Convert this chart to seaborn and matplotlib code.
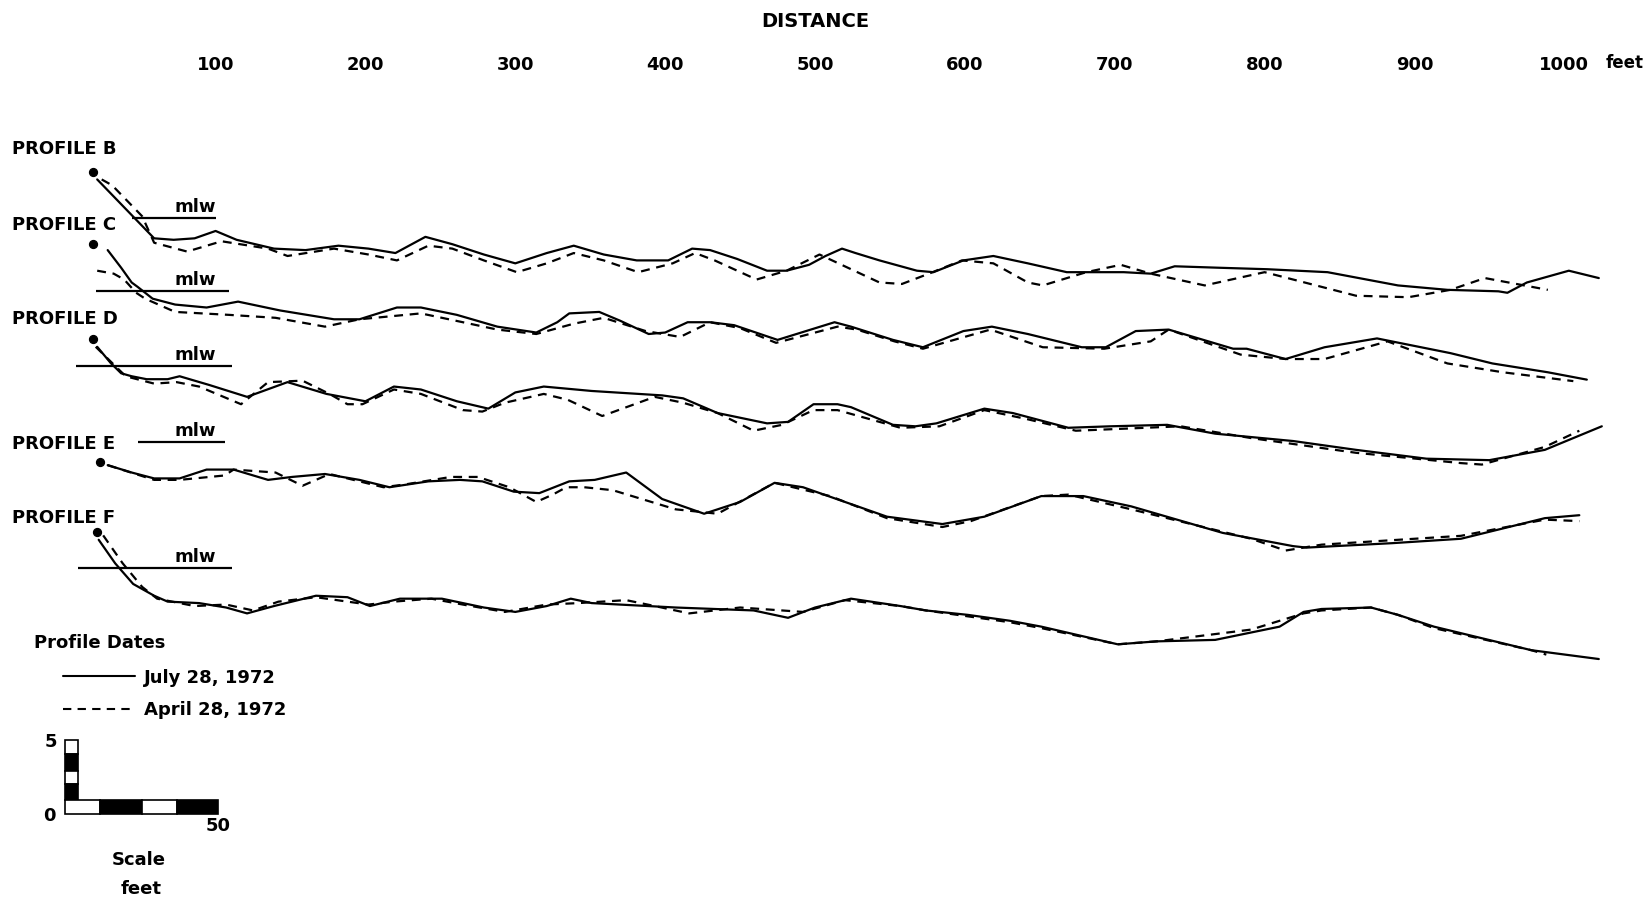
import matplotlib
matplotlib.use("Agg")
import matplotlib.pyplot as plt
from matplotlib.lines import Line2D
from matplotlib.patches import Rectangle
import pandas as pd
import seaborn as sns

# ---------------- data: distance (ft) and elevation relative to mlw (ft) ----------------
dates = ["July 28, 1972", "April 28, 1972"]
profiles = ["B", "C", "D", "E", "F"]

b_jul_dist = [21,40,59,72,86,100,114,139,160,182,202,220,240,258,279,300,321,339,359,381,402,418,430,448,468,481,496,507,518,527,543,568,579,599,619,642,668,706,724,740,770,802,842,889,922,956,962,975,1003,1023]
b_jul_elev = [2.6,0.6,-1.4,-1.5,-1.4,-0.9,-1.5,-2.1,-2.2,-1.9,-2.1,-2.4,-1.3,-1.8,-2.5,-3.1,-2.4,-1.9,-2.5,-2.9,-2.9,-2.1,-2.2,-2.8,-3.6,-3.6,-3.2,-2.6,-2.1,-2.4,-2.9,-3.6,-3.7,-2.9,-2.6,-3.1,-3.7,-3.7,-3.8,-3.3,-3.4,-3.5,-3.7,-4.6,-4.9,-5.0,-5.1,-4.4,-3.6,-4.1]
b_apr_dist = [24,31,51,59,81,104,135,148,179,202,221,242,258,279,301,321,339,359,382,405,420,433,461,481,503,543,558,576,598,619,642,652,681,704,724,760,800,861,896,924,947,989]
b_apr_elev = [2.6,2.2,0.1,-1.7,-2.3,-1.6,-2.1,-2.6,-2.1,-2.5,-2.9,-1.9,-2.1,-2.9,-3.7,-3.1,-2.4,-2.9,-3.7,-3.1,-2.4,-2.9,-4.2,-3.6,-2.5,-4.4,-4.5,-3.8,-2.9,-3.1,-4.4,-4.6,-3.7,-3.2,-3.8,-4.6,-3.7,-5.3,-5.4,-4.9,-4.1,-4.9]

c_jul_dist = [28,37,44,48,58,73,94,115,143,179,196,221,237,261,288,314,328,336,356,370,389,400,415,430,446,475,513,524,552,572,599,618,642,678,694,714,736,779,788,814,840,875,924,952,989,1015]
c_jul_elev = [2.8,1.6,0.6,0.3,-0.5,-0.9,-1.1,-0.7,-1.3,-1.9,-1.9,-1.1,-1.1,-1.6,-2.4,-2.8,-2.1,-1.5,-1.4,-2.0,-2.9,-2.8,-2.1,-2.1,-2.3,-3.3,-2.1,-2.4,-3.3,-3.8,-2.7,-2.4,-2.9,-3.8,-3.8,-2.7,-2.6,-3.9,-3.9,-4.6,-3.8,-3.2,-4.2,-4.9,-5.5,-6.0]
c_apr_dist = [21,32,39,47,53,73,109,140,173,196,237,265,288,314,339,359,387,410,430,450,474,515,528,553,572,617,652,693,724,736,784,814,840,882,922,959,1006]
c_apr_elev = [1.4,1.2,0.8,-0.1,-0.5,-1.4,-1.6,-1.8,-2.4,-1.9,-1.5,-2.1,-2.6,-2.9,-2.2,-1.8,-2.7,-3.1,-2.1,-2.5,-3.5,-2.4,-2.6,-3.4,-3.9,-2.6,-3.8,-3.9,-3.4,-2.6,-4.3,-4.6,-4.6,-3.4,-4.9,-5.5,-6.1]

d_jul_dist = [21,30,37,44,54,68,76,96,121,148,174,200,219,237,261,282,300,319,351,398,412,435,468,482,499,515,524,552,567,581,613,632,669,697,735,767,819,861,908,950,987,1025]
d_jul_elev = [1.3,0.2,-0.5,-0.7,-0.9,-0.9,-0.7,-1.3,-2.1,-1.1,-1.9,-2.4,-1.4,-1.6,-2.4,-2.9,-1.8,-1.4,-1.7,-2.0,-2.2,-3.2,-3.9,-3.8,-2.6,-2.6,-2.8,-4.0,-4.1,-3.9,-2.9,-3.2,-4.2,-4.1,-4.0,-4.6,-5.1,-5.7,-6.3,-6.4,-5.7,-4.1]
d_apr_dist = [20,33,40,59,74,89,117,135,158,176,188,198,219,237,265,278,293,319,335,358,393,412,435,459,478,499,515,557,583,613,641,674,744,791,861,931,945,987,1010]
d_apr_elev = [1.3,0.0,-0.7,-1.2,-1.1,-1.4,-2.6,-1.1,-1.0,-1.9,-2.6,-2.6,-1.6,-1.9,-3.0,-3.1,-2.5,-1.9,-2.3,-3.4,-2.1,-2.5,-3.2,-4.4,-4.0,-3.0,-3.0,-4.2,-4.1,-3.0,-3.6,-4.4,-4.1,-4.9,-5.9,-6.6,-6.7,-5.5,-4.4]

e_jul_dist = [28,44,59,76,94,112,135,151,173,196,216,242,263,278,299,316,336,353,374,398,426,450,473,492,548,585,613,651,679,711,772,819,828,885,931,987,1010]
e_jul_elev = [-1.6,-2.1,-2.5,-2.5,-1.9,-1.9,-2.6,-2.4,-2.2,-2.6,-3.1,-2.7,-2.6,-2.7,-3.4,-3.5,-2.7,-2.6,-2.1,-3.9,-4.9,-4.1,-2.8,-3.1,-5.1,-5.6,-5.1,-3.7,-3.7,-4.4,-6.2,-7.1,-7.2,-6.9,-6.6,-5.2,-5.0]
e_apr_dist = [28,59,76,106,112,140,158,176,212,227,257,275,296,314,325,334,346,365,407,435,473,510,548,585,604,651,669,711,791,814,838,931,987,1010]
e_apr_elev = [-1.6,-2.6,-2.6,-2.3,-1.9,-2.1,-3.0,-2.2,-3.1,-2.9,-2.4,-2.4,-3.1,-4.1,-3.6,-3.1,-3.1,-3.3,-4.6,-4.9,-2.8,-3.7,-5.2,-5.8,-5.4,-3.7,-3.6,-4.6,-6.6,-7.4,-7.0,-6.4,-5.3,-5.4]

f_jul_dist = [22,33,45,59,68,89,107,121,139,167,188,203,223,251,279,300,321,337,351,407,459,482,500,524,557,574,602,630,651,702,728,767,810,826,838,871,889,913,978,1023]
f_jul_elev = [1.9,0.3,-1.1,-1.9,-2.3,-2.4,-2.7,-3.1,-2.6,-1.9,-2.0,-2.6,-2.1,-2.1,-2.7,-3.0,-2.6,-2.1,-2.4,-2.7,-2.9,-3.4,-2.7,-2.1,-2.6,-2.9,-3.2,-3.6,-4.0,-5.2,-5.0,-4.9,-4.0,-3.0,-2.8,-2.7,-3.2,-4.0,-5.6,-6.2]
f_apr_dist = [25,38,51,61,86,107,125,142,167,188,202,219,244,265,293,321,342,374,393,416,450,492,520,557,574,602,630,651,702,728,791,826,838,871,889,913,978,988]
f_apr_elev = [2.2,0.3,-1.3,-2.1,-2.6,-2.5,-2.9,-2.3,-2.0,-2.3,-2.5,-2.3,-2.1,-2.5,-3.0,-2.5,-2.4,-2.2,-2.6,-3.1,-2.7,-3.0,-2.2,-2.6,-2.9,-3.3,-3.7,-4.1,-5.2,-5.0,-4.2,-3.1,-2.9,-2.7,-3.2,-4.1,-5.6,-5.9]

# benchmark points at the landward end of each profile
bench_dist = [18, 18, 18, 23, 21]
bench_elev = [3.1, 3.2, 1.8, -1.4, 2.4]
# extent of the mean-low-water reference line for each profile
mlw_start = [44, 20, 7, 48, 8]
mlw_end = [100, 109, 111, 106, 111]

dist_ticks = [100, 200, 300, 400, 500, 600, 700, 800, 900, 1000]

# ---------------- layout (vertical stacking of the profiles) ----------------
datum = {"B": -14.79, "C": -19.79, "D": -24.86, "E": -30.0, "F": -38.57}

series = {
    ("B", dates[0]): (b_jul_dist, b_jul_elev), ("B", dates[1]): (b_apr_dist, b_apr_elev),
    ("C", dates[0]): (c_jul_dist, c_jul_elev), ("C", dates[1]): (c_apr_dist, c_apr_elev),
    ("D", dates[0]): (d_jul_dist, d_jul_elev), ("D", dates[1]): (d_apr_dist, d_apr_elev),
    ("E", dates[0]): (e_jul_dist, e_jul_elev), ("E", dates[1]): (e_apr_dist, e_apr_elev),
    ("F", dates[0]): (f_jul_dist, f_jul_elev), ("F", dates[1]): (f_apr_dist, f_apr_elev),
}
rows = []
for (p, d), (xs, ys) in series.items():
    for x, y in zip(xs, ys):
        rows.append({"profile": p, "date": d, "dist": x, "y": datum[p] + y})
df = pd.DataFrame(rows)

sns.set_theme(style="white")
plt.rcParams["font.family"] = ["DejaVu Sans"]
plt.rcParams["font.weight"] = "bold"
plt.rcParams["text.color"] = "black"

fig = plt.figure(figsize=(16.49, 9.0), dpi=100)
ax = fig.add_axes([0, 0, 1, 1])
ax.set_xlim(-43.86, 1056.5)
ax.set_ylim(-61.14, 0)
ax.axis("off")

DASH = (4, 3)
sns.lineplot(data=df, x="dist", y="y", units="profile", style="date",
             dashes={dates[0]: "", dates[1]: DASH}, estimator=None, sort=False,
             color="black", lw=1.6, legend=False, ax=ax)

bench_y = [datum[p] + e for p, e in zip(profiles, bench_elev)]
ax.scatter(bench_dist, bench_y, s=32, color="black", zorder=5)

FS = 13
TXT = dict(color="black", fontweight="bold")
for p, x0, x1 in zip(profiles, mlw_start, mlw_end):
    ax.hlines(datum[p], x0, x1, color="black", lw=1.6)
    ax.text(86.7, datum[p] + 0.75, "mlw", ha="center", va="center", fontsize=FS, **TXT)

label_y = {"B": -10.14, "C": -15.29, "D": -21.64, "E": -30.14, "F": -35.21}
for p in profiles:
    ax.text(-36.1, label_y[p], f"PROFILE {p}", ha="left", va="center", fontsize=FS, **TXT)

# top distance scale
ax.text(500, -1.43, "DISTANCE", ha="center", va="center", fontsize=FS + 1, **TXT)
for t in dist_ticks:
    ax.text(t, -4.4, f"{t}", ha="center", va="center", fontsize=FS, **TXT)
ax.text(1040, -4.3, "feet", ha="center", va="center", fontsize=FS - 1, **TXT)

# legend
ax.text(-21.4, -43.71, "Profile Dates", ha="left", va="center", fontsize=FS, **TXT)
handles = [Line2D([], [], color="black", lw=1.5),
           Line2D([], [], color="black", lw=1.5, dashes=DASH)]
leg = ax.legend(handles, dates, loc="upper left", bbox_to_anchor=(60 / 1568, 1 - 636 / 856),
                frameon=False, handlelength=4.0, handletextpad=0.5, labelspacing=0.8,
                borderpad=0, borderaxespad=0, prop={"weight": "bold", "size": FS})
for t in leg.get_texts():
    t.set_color("black")

# graphic scale bar (5 ft vertical, 50 ft horizontal)
segs_v = [(-51.21, -50.29, "white"), (-52.36, -51.21, "black"),
          (-53.29, -52.36, "white"), (-54.36, -53.29, "black")]
for y0, y1, c in segs_v:
    ax.add_patch(Rectangle((-0.35, y0), 8.42, y1 - y0, facecolor=c, edgecolor="black", lw=1.2))
segs_h = [(-0.35, 22.8, "white"), (22.8, 50.9, "black"), (50.9, 74.0, "white"), (74.0, 101.75, "black")]
for x0, x1, c in segs_h:
    ax.add_patch(Rectangle((x0, -55.29), x1 - x0, 0.93, facecolor=c, edgecolor="black", lw=1.2))
ax.text(-10.2, -50.43, "5", ha="center", va="center", fontsize=FS, **TXT)
ax.text(-10.9, -55.43, "0", ha="center", va="center", fontsize=FS, **TXT)
ax.text(101.4, -56.14, "50", ha="center", va="center", fontsize=FS, **TXT)
ax.text(48.8, -58.43, "Scale", ha="center", va="center", fontsize=FS, **TXT)
ax.text(50.2, -60.36, "feet", ha="center", va="center", fontsize=FS, **TXT)

fig.savefig("out.png", dpi=100, facecolor="white")
